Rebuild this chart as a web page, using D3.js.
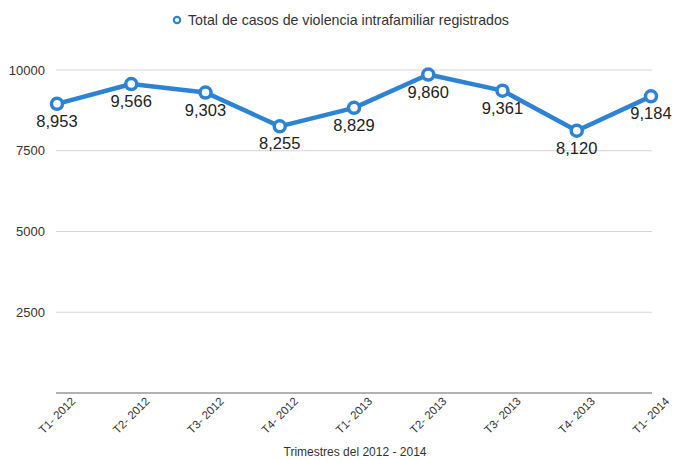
<!DOCTYPE html>
<html><head><meta charset="utf-8">
<script src="https://cdn.jsdelivr.net/npm/d3@7"></script>
<style>body{margin:0;background:#fff;font-family:"Liberation Sans",Arial,Helvetica,sans-serif}</style>
</head><body><svg id="c" width="673" height="460"></svg>
<script>
const categories=["T1- 2012","T2- 2012","T3- 2012","T4- 2012","T1- 2013","T2- 2013","T3- 2013","T4- 2013","T1- 2014"];
const values=[8953,9566,9303,8255,8829,9860,9361,8120,9184];
const yTicks=[2500,5000,7500,10000];
const seriesName="Total de casos de violencia intrafamiliar registrados";
const xTitle="Trimestres del 2012 - 2014";

(function(){
const svg=d3.select("#c");
const mL=56,mR=652,mT=70,mB=393;
const x=d3.scalePoint().domain(categories).range([mL+1,mR-1]);
const y=d3.scaleLinear().domain([0,10000]).range([mB,mT]);
const blue="#2d83d3";
const font='"Liberation Sans",Arial,Helvetica,sans-serif';

svg.append("g").selectAll("line").data(yTicks).join("line")
 .attr("x1",mL).attr("x2",mR).attr("y1",d=>y(d)).attr("y2",d=>y(d))
 .attr("stroke","#d6d6d6").attr("stroke-width",1);
svg.append("g").selectAll("text").data(yTicks).join("text")
 .attr("x",45).attr("y",d=>y(d)+4.5).attr("text-anchor","end")
 .attr("font-size",13).attr("font-family",font).attr("fill","#333").text(d=>d);
svg.append("line").attr("x1",mL).attr("x2",mR).attr("y1",mB).attr("y2",mB)
 .attr("stroke","#666").attr("stroke-width",1.2);
svg.append("g").selectAll("text").data(categories).join("text")
 .attr("transform",d=>`translate(${x(d)+19},${mB+9}) rotate(-45)`)
 .attr("text-anchor","end").attr("font-size",11.5).attr("font-family",font).attr("fill","#333").text(d=>d);
svg.append("text").attr("x",355).attr("y",456).attr("text-anchor","middle")
 .attr("font-size",12).attr("font-family",font).attr("fill","#333").text(xTitle);
const data=categories.map((c,i)=>({c,v:values[i]}));
svg.append("path").datum(data).attr("fill","none").attr("stroke",blue).attr("stroke-width",4.5)
 .attr("stroke-linejoin","round")
 .attr("d",d3.line().x(d=>x(d.c)).y(d=>y(d.v)));
svg.append("g").selectAll("circle").data(data).join("circle")
 .attr("cx",d=>x(d.c)).attr("cy",d=>y(d.v)).attr("r",5.5)
 .attr("fill","#fff").attr("stroke",blue).attr("stroke-width",3.5);
svg.append("g").selectAll("text").data(data).join("text")
 .attr("x",d=>x(d.c)).attr("y",d=>y(d.v)+23).attr("text-anchor","middle")
 .attr("font-size",16.5).attr("font-family",font).attr("fill","#222").text(d=>d3.format(",")(d.v));
svg.append("circle").attr("cx",177).attr("cy",20).attr("r",3.2).attr("fill","#fff").attr("stroke",blue).attr("stroke-width",2.2);
svg.append("text").attr("x",188).attr("y",25).attr("font-size",14.2).attr("font-family",font).attr("fill","#333").text(seriesName);
})();
</script></body></html>
